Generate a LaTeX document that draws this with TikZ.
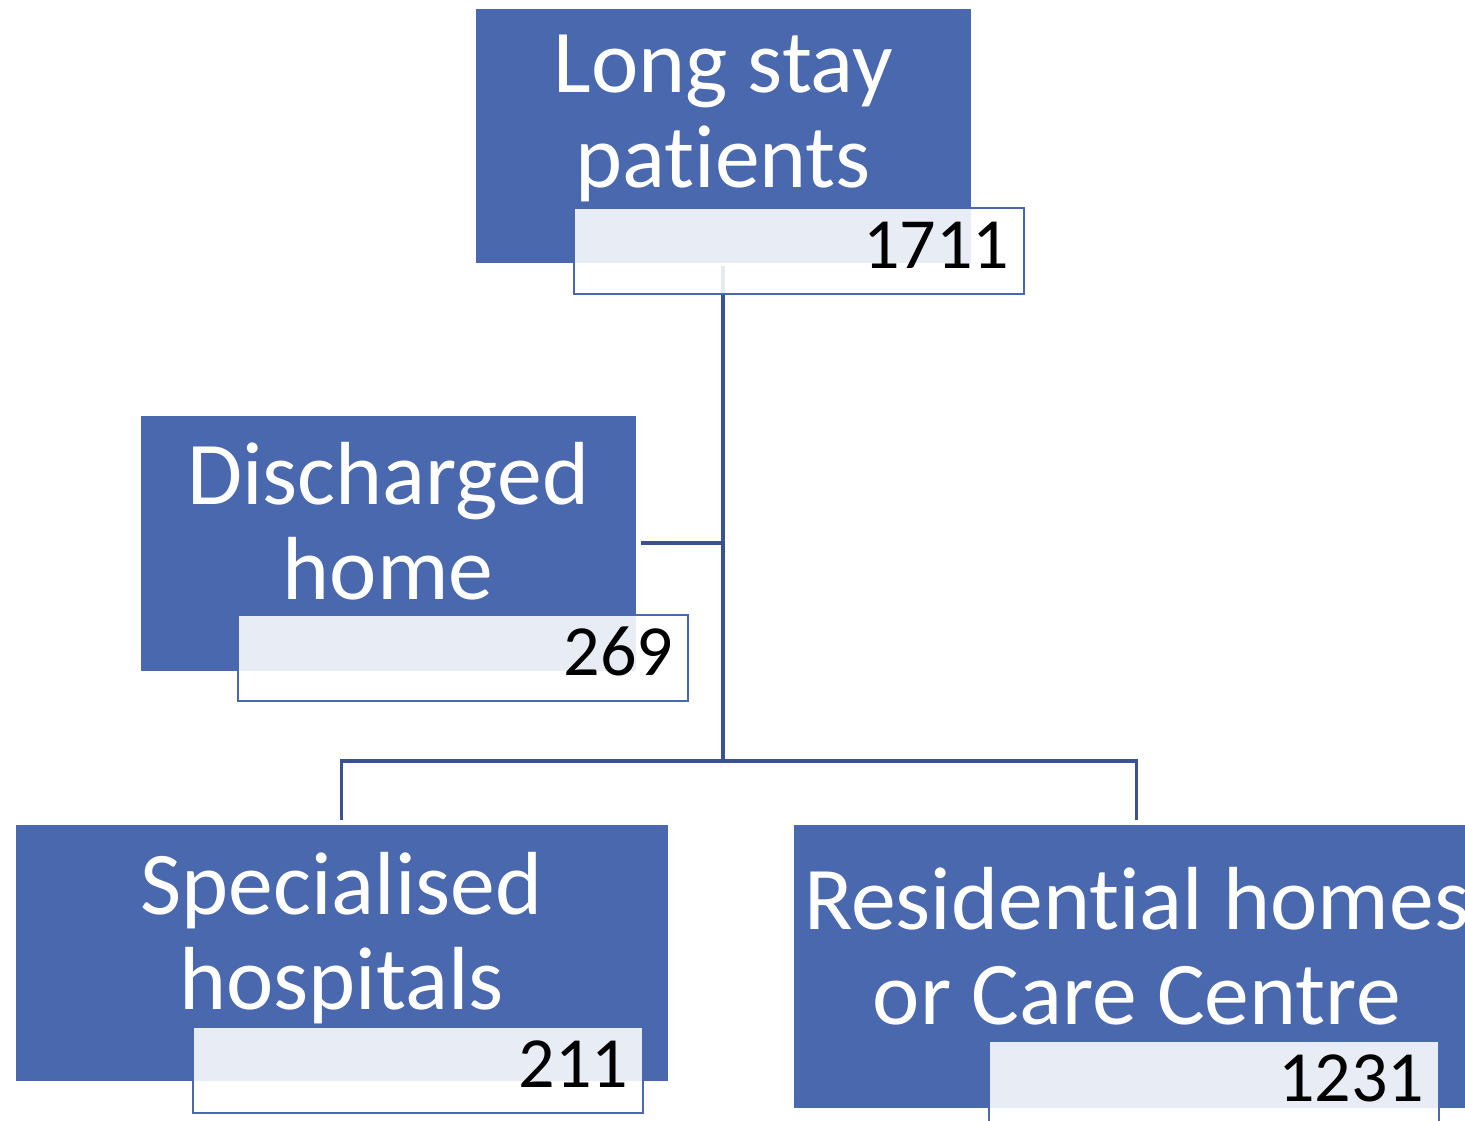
\documentclass[tikz,border=0pt]{standalone}
\usepackage{fontspec}
\setmainfont{Carlito}[Ligatures=NoCommon]
\usepackage{tikz}
\usetikzlibrary{positioning,calc}

\definecolor{boxblue}{RGB}{74,104,174}
\definecolor{linkblue}{RGB}{59,82,145}

\begin{document}
\begin{tikzpicture}
	
		\tikzset{boxstyle/.style={rectangle,fill=boxblue,inner sep=0pt,anchor=north west}}
		\tikzset{textstyle/.style={anchor=base,align=center,inner sep=0pt,text=white,font=\fontsize{25.5}{27.3}\selectfont}}
		\tikzset{labelstyle/.style={rectangle,draw=boxblue,line width=0.6pt,fill=white,fill opacity=0.88,inner sep=0pt,anchor=north west,minimum width=4.5cm,minimum height=0.86cm}}
		\tikzset{numstyle/.style={anchor=base east,inner sep=0pt,text=black,font=\fontsize{20.5}{24}\selectfont}}
		\tikzset{linkstyle/.style={-,draw=linkblue,line width=1pt}}
		
		\useasboundingbox (0,0) rectangle (14.65,-11.21);
		
		\newcommand\careBox[7] % {name}{x}{y}{width}{height}{text}{drop to last line}
		{
			\node[boxstyle, minimum width=#4cm, minimum height=#5cm] at (#2,#3) (#1) {};
			\node[textstyle] at ($(#1.north)+(0,-#7)$) (#1text) {#6};
		}
		
		\newcommand\careLabel[4] % {name}{x}{y}{number}
		{
			\node[labelstyle] at (#2,#3) (#1label) {};
			\node[numstyle] at ($(#1label.north east)+(-0.15,-0.62)$) (#1num) {#4};
		}
		
		\careBox{top}{4.75}{-0.08}{4.95}{2.54}{Long stay\\patients}{1.80}
		\careBox{dis}{1.40}{-4.15}{4.95}{2.55}{Discharged\\home}{1.85}
		\careBox{spec}{0.15}{-8.24}{6.52}{2.56}{Specialised\\hospitals}{1.86}
		\careBox{res}{7.93}{-8.24}{6.86}{2.83}{Residential homes\\or Care Centre}{2.01}
		
		\coordinate (bar) at (0,-7.61);
		
		\draw[linkstyle] ([yshift=-0.03cm]top.south) -- (top.south |- bar);
		\draw[linkstyle] ([xshift=0.05cm]dis.east) -- (top.south |- dis.east);
		\draw[linkstyle]
		([yshift=0.04cm]spec.north) |- (top.south |- bar) -| ([yshift=0.04cm]res.north);
		
		\careLabel{top}{5.73}{-2.07}{1711}
		\careLabel{dis}{2.37}{-6.14}{269}
		\careLabel{spec}{1.92}{-10.26}{211}
		\careLabel{res}{9.88}{-10.40}{1231}
	\end{tikzpicture}
\end{document}
